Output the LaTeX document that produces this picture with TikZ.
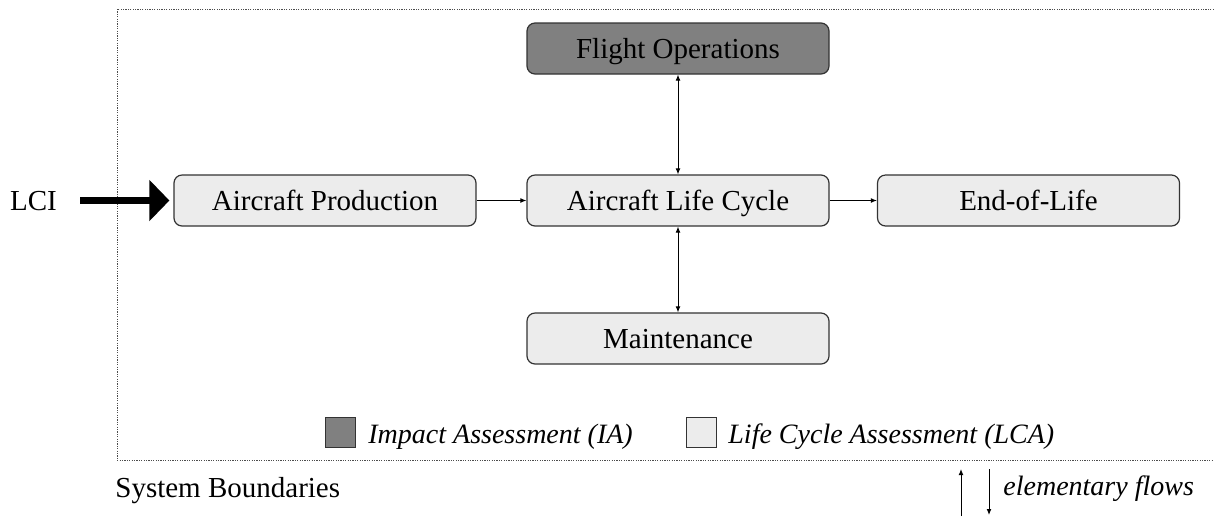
\documentclass[tikz,border=0pt]{standalone}
\usepackage{fontspec}
\setmainfont{Liberation Serif}
\usetikzlibrary{arrows.meta}

\definecolor{boxlight}{HTML}{ECECEC}
\definecolor{boxdark}{HTML}{808080}
\definecolor{boxedge}{HTML}{333333}

\tikzset{
  lbl/.style={font=\fontsize{14.5}{17}\selectfont},
  stage/.style={draw=boxedge, line width=0.6pt, rounded corners=4pt,
    minimum width=151pt, minimum height=25.5pt, inner sep=0pt, lbl,
    text height=12.3pt, text depth=2.7pt},
  lightstage/.style={stage, fill=boxlight},
  darkstage/.style={stage, fill=boxdark},
  flow/.style={line width=0.45pt, -{Latex[length=3pt,width=2.4pt]}},
  biflow/.style={line width=0.45pt, {Latex[length=3pt,width=2.4pt]}-{Latex[length=3pt,width=2.4pt]}},
  boundary/.style={draw=black!70, line width=0.5pt, dash pattern=on 0.6pt off 0.6pt},
  swatch/.style={draw=boxedge, line width=0.5pt, minimum size=15pt, inner sep=0pt},
  legendtext/.style={font=\fontsize{14}{16}\selectfont\itshape, inner sep=0pt}
}

\begin{document}
\begin{tikzpicture}[x=0.5pt, y=-0.5pt]
  \useasboundingbox (0,0) rectangle (1214,516);

  % system boundary
  \draw[boundary] (117,9) rectangle (1214,460);

  % life cycle stages
  \node[darkstage]  (flight) at (678,48.5)    {Flight Operations};
  \node[lightstage] (life)   at (678,200.5)   {Aircraft Life Cycle};
  \node[lightstage] (maint)  at (678,338.5)   {Maintenance};
  \node[lightstage] (prod)   at (325,200.5)   {Aircraft Production};
  \node[lightstage] (eol)    at (1028.5,200.5){End-of-Life};

  % inventory input
  \node[lbl, inner sep=0pt, text height=12.3pt, text depth=2.7pt] (lci) at (33.5,200.5) {LCI};
  \draw[line width=3.5pt, -{Triangle[length=10pt,width=20pt]},
        shorten <=11.5pt, shorten >=2pt] (lci.east) -- (prod.west);

  % connections between stages
  \draw[flow]   (prod.east) -- (life.west);
  \draw[flow]   (life.east) -- (eol.west);
  \draw[biflow] (flight.south) -- (life.north);
  \draw[biflow] (life.south) -- (maint.north);

  % legend
  \node[swatch, fill=boxdark]  (sia)  at (340,432)   {};
  \node[legendtext, anchor=base west] (tia)  at (368,443) {Impact Assessment (IA)};
  \node[swatch, fill=boxlight] (slca) at (701.5,432) {};
  \node[legendtext, anchor=base west] (tlca) at (728,443) {Life Cycle Assessment (LCA)};

  % boundary caption and elementary flows
  \node[lbl, inner sep=0pt, anchor=base west] (sysb) at (115,497) {System Boundaries};
  \coordinate (upfrom) at (961,516);
  \coordinate (upto)   at (961,469);
  \coordinate (dnfrom) at (989,469);
  \coordinate (dnto)   at (989,515);
  \draw[flow] (upfrom) -- (upto);
  \draw[flow] (dnfrom) -- (dnto);
  \node[legendtext, anchor=base west] (elem) at (1003,495) {elementary flows};
\end{tikzpicture}
\end{document}
